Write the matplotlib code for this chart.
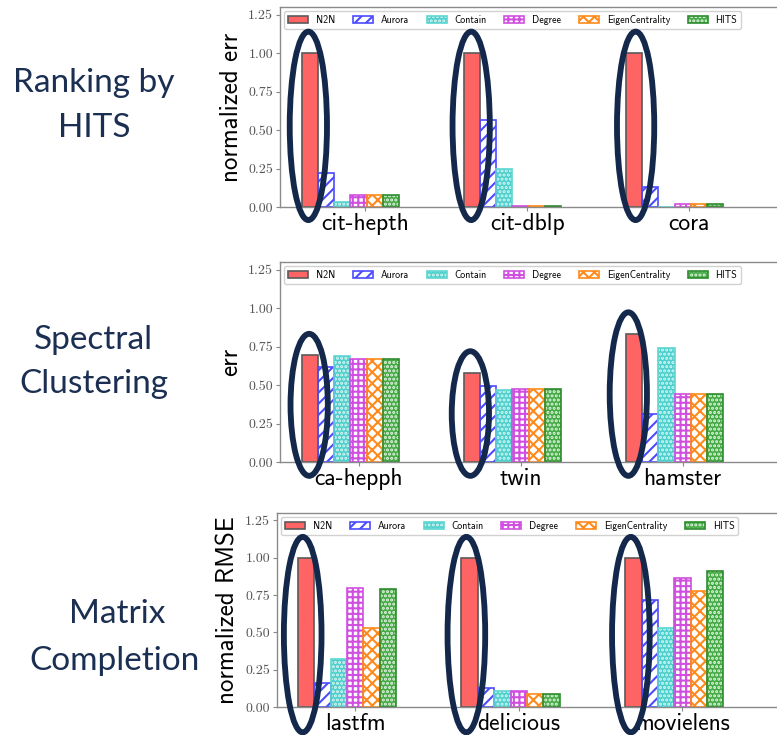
import matplotlib
matplotlib.use("Agg")
import matplotlib.pyplot as plt
from matplotlib.patches import Ellipse
from matplotlib.legend_handler import HandlerTuple
from matplotlib.ticker import FormatStrFormatter

plt.rcParams['hatch.linewidth'] = 1.5

# ---- data ----
methods = ["N2N", "Aurora", "Contain", "Degree", "EigenCentrality", "HITS"]

rank_datasets = ["cit-hepth", "cit-dblp", "cora"]
rank_vals = {
    "N2N":             [1.00, 1.00, 1.00],
    "Aurora":          [0.22, 0.565, 0.13],
    "Contain":         [0.035, 0.25, 0.003],
    "Degree":          [0.075, 0.005, 0.02],
    "EigenCentrality": [0.075, 0.005, 0.02],
    "HITS":            [0.075, 0.005, 0.02],
}

clus_datasets = ["ca-hepph", "twin", "hamster"]
clus_vals = {
    "N2N":             [0.693, 0.580, 0.833],
    "Aurora":          [0.617, 0.496, 0.310],
    "Contain":         [0.686, 0.465, 0.740],
    "Degree":          [0.669, 0.476, 0.439],
    "EigenCentrality": [0.669, 0.476, 0.439],
    "HITS":            [0.669, 0.476, 0.439],
}

mc_datasets = ["lastfm", "delicious", "movielens"]
mc_vals = {
    "N2N":             [1.00, 1.00, 1.00],
    "Aurora":          [0.161, 0.130, 0.714],
    "Contain":         [0.322, 0.107, 0.530],
    "Degree":          [0.800, 0.107, 0.866],
    "EigenCentrality": [0.530, 0.087, 0.774],
    "HITS":            [0.790, 0.087, 0.910],
}

row_titles = [["Ranking by", "HITS"], ["Spectral", "Clustering"], ["Matrix", "Completion"]]
ylabels = ["normalized err", "err", "normalized RMSE"]

# ---- styles: (face, hatch, hatch colour, edge colour) ----
styles = {
    "N2N":             ("#FF6464", None,    None,      "#5A5A5A"),
    "Aurora":          ("white",   "///",   "#4B4BFF", "#4B4BFF"),
    "Contain":         ("#4CCFCB", "....",  "#D8F6F5", "#5ED6D2"),
    "Degree":          ("white",   "+++",   "#D14FE0", "#D14FE0"),
    "EigenCentrality": ("white",   "xxx",   "#FF8A1C", "#FF8A1C"),
    "HITS":            ("#43A943", "....",  "#E6F5E6", "#2E8B2E"),
}

navy = "#13284A"
W, H = 777, 735
fig = plt.figure(figsize=(W / 100, H / 100), dpi=100)


def px_axes(left, top, bottom, right=779):
    return fig.add_axes([left / W, 1 - bottom / H, (right - left) / W, (bottom - top) / H])


def draw_panel(ax, datasets, vals, ylabel, xlim, tick_off, ell_bottom, ell_dx):
    width = 0.1
    handles = []
    for i, m in enumerate(methods):
        face, hatch, hcol, ecol = styles[m]
        xs = [g + i * width for g in range(len(datasets))]
        b1 = ax.bar(xs, vals[m], width, color=face, linewidth=0, zorder=2)
        parts = [b1[0]]
        if hatch:
            b2 = ax.bar(xs, vals[m], width, facecolor="none", edgecolor=hcol,
                        hatch=hatch, linewidth=0, zorder=2.1)
            parts.append(b2[0])
        b3 = ax.bar(xs, vals[m], width, facecolor="none", edgecolor=ecol,
                    linewidth=1.2, zorder=2.2)
        parts.append(b3[0])
        handles.append(tuple(parts))

    ax.set_xlim(*xlim)
    ax.set_ylim(0, 1.3)
    ax.set_yticks([0, 0.25, 0.5, 0.75, 1.0, 1.25])
    ax.yaxis.set_major_formatter(FormatStrFormatter('%.2f'))
    for t in ax.get_yticklabels():
        t.set_fontfamily('cmr10')
        t.set_fontsize(10)
        t.set_color('#555555')
    ax.set_xticks([g + tick_off for g in range(len(datasets))])
    ax.set_xticklabels(datasets, fontfamily='cmss10', fontsize=17)
    ax.tick_params(axis='x', length=3, pad=1, color='#888888')
    ax.tick_params(axis='y', length=3, pad=2, color='#888888')
    for s in ax.spines.values():
        s.set_color('#8A8A8A')
        s.set_linewidth(1.0)
    ax.set_ylabel(ylabel, fontfamily='cmss10', fontsize=18, labelpad=4)

    leg = ax.legend(handles, methods, handler_map={tuple: HandlerTuple(ndivide=1, pad=0)},
                    loc='upper left', ncol=6, prop={'family': 'cmss10', 'size': 7.2},
                    bbox_to_anchor=(0.0, 1.0), borderaxespad=0.4, columnspacing=1.75,
                    handletextpad=0.8, framealpha=0.9)
    leg.get_frame().set_edgecolor('#CCCCCC')

    # highlight the N2N bar of every group
    for g in range(len(datasets)):
        top = vals["N2N"][g] + 0.14
        cy = (top + ell_bottom) / 2
        e = Ellipse((g + ell_dx[g], cy), 0.23, top - ell_bottom, fill=False,
                    edgecolor=navy, linewidth=4.2, zorder=10, clip_on=False)
        ax.add_patch(e)


ax1 = px_axes(280, 7, 207)
draw_panel(ax1, rank_datasets, rank_vals, ylabels[0], (-0.185, 2.895), 0.34,
           -0.085, [-0.01, -0.005, 0.01])

ax2 = px_axes(280, 262, 462)
draw_panel(ax2, clus_datasets, clus_vals, ylabels[1], (-0.185, 2.895), 0.30,
           -0.09, [-0.005, -0.01, -0.035])

ax3 = px_axes(277, 513, 707)
draw_panel(ax3, mc_datasets, mc_vals, ylabels[2], (-0.177, 2.89), 0.30,
           -0.17, [-0.02, -0.02, -0.015])

# row titles on the left
title_pos = [((94, 92), (94, 137)), ((93, 349), (94, 393)), ((117, 623), (114, 670))]
for lines, pos in zip(row_titles, title_pos):
    for txt, (x, y) in zip(lines, pos):
        fig.text(x / W, 1 - y / H, txt, ha='center', va='baseline',
                 fontfamily='Lato', fontsize=24, color='#1B2F52')

fig.savefig("out.png", dpi=100)
